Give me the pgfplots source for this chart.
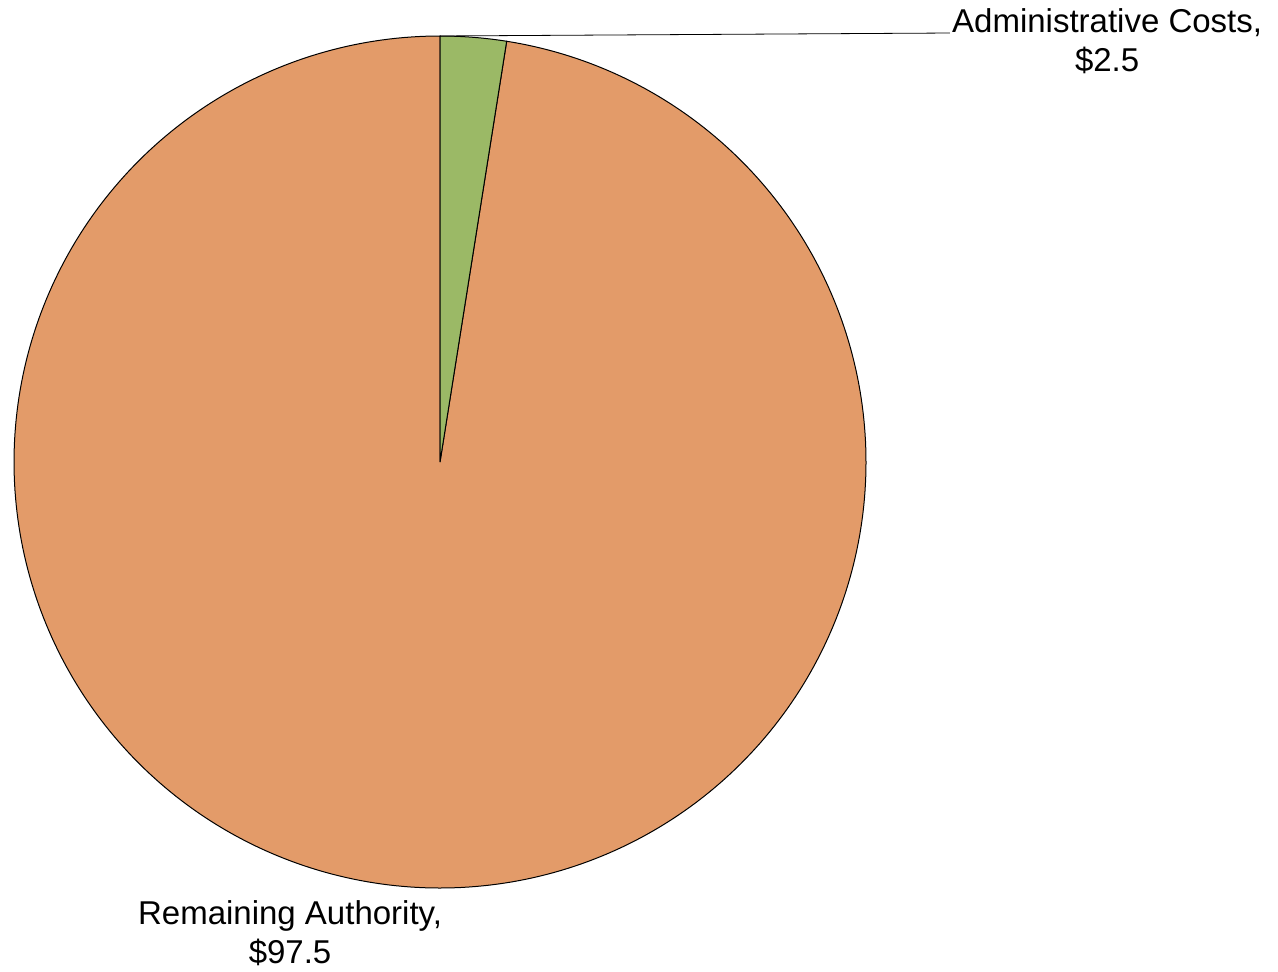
\documentclass[border=0pt]{standalone}
\usepackage{pgfplots}
\pgfplotsset{compat=1.18}
\usepackage{fontspec}
\setmainfont{Liberation Sans}
\definecolor{pieorange}{RGB}{227,155,105}
\definecolor{piegreen}{RGB}{155,185,102}

% slice values
\def\adminval{2.5}
\def\restval{97.5}
\pgfmathsetmacro\angA{90-3.6*\adminval}
\pgfmathsetmacro\angB{\angA-3.6*\restval}

\begin{document}
\begin{tikzpicture}
\begin{axis}[
    scale only axis,
    width=639pt,
    height=485.5pt,
    xmin=-1.0329, xmax=1.9671,
    ymin=-1.1948, ymax=1.0845,
    hide axis,
    clip=false,
]
% Remaining Authority
\addplot[fill=pieorange, draw=black, line width=0.5pt, domain=\angB:\angA, samples=360]
    ({cos(x)},{sin(x)}) -- (0,0) -- cycle;
% Administrative Costs
\addplot[fill=piegreen, draw=black, line width=0.5pt, domain=\angA:90, samples=20]
    ({cos(x)},{sin(x)}) -- (0,0) -- cycle;
% leader line
\addplot[black, line width=0.4pt] coordinates {(0,1.0) (1.197,1.007)};
\node[align=center, font=\fontsize{16.5}{19.5}\selectfont, inner sep=0pt]
    at (1.566,0.988) {Administrative Costs,\\\$2.5};
\node[align=center, font=\fontsize{16.5}{19.5}\selectfont, inner sep=0pt]
    at (-0.352,-1.106) {Remaining Authority,\\\$97.5};
\end{axis}
\pgfresetboundingbox
\path (current axis.south west) rectangle (current axis.north east);
\end{tikzpicture}
\end{document}
